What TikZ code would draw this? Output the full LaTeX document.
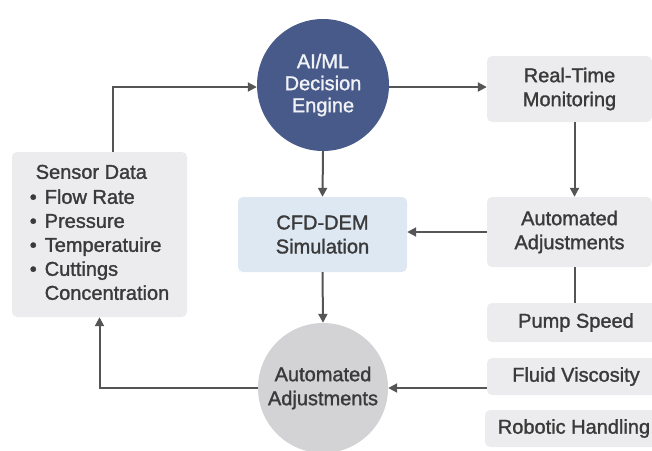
\documentclass[tikz,border=0pt]{standalone}
\usepackage{fontspec}
\setmainfont[FakeBold=1.4]{Liberation Sans}
\usetikzlibrary{arrows.meta}
\definecolor{boxgray}{HTML}{ECECEE}
\definecolor{boxblue}{HTML}{DEE8F2}
\definecolor{navy}{HTML}{485A89}
\definecolor{circgray}{HTML}{D3D3D5}
\definecolor{txt}{HTML}{3A3A3A}
\definecolor{conn}{HTML}{555555}
\tikzset{
  txtfont/.style={font=\fontsize{20}{24}\selectfont, text=txt, align=center},
  graybox/.style={txtfont, fill=boxgray, rounded corners=5pt, inner sep=0pt},
  bluebox/.style={txtfont, fill=boxblue, rounded corners=5pt, inner sep=0pt},
  arr/.style={draw=conn, line width=2pt, -{Triangle[length=9pt,width=9pt]}},
  ln/.style={draw=conn, line width=2pt},
}
\begin{document}
\begin{tikzpicture}[x=1pt,y=-1pt]
\useasboundingbox (0,0) rectangle (652,450);
% nodes
\node[graybox, minimum width=175pt, minimum height=165pt] (sensor) at (99.5,234.5)
  {\begin{tabular}{@{}l@{\hspace{8pt}}l@{}}
    \multicolumn{2}{@{}l@{}}{\hspace{6pt}Sensor Data}\\[1pt]
    \textbullet & Flow Rate\\
    \textbullet & Pressure\\
    \textbullet & Temperatuire\\
    \textbullet & Cuttings\\
     & Concentration
   \end{tabular}};
\node[circle, fill=navy, minimum size=132pt, inner sep=0pt, font=\fontsize{20}{22}\selectfont, text=white!92!navy, align=center] (aiml) at (323,85) {AI/ML\\Decision\\Engine};
\node[bluebox, minimum width=169pt, minimum height=75pt] (cfd) at (322.5,234.5) {CFD-DEM\\Simulation};
\node[circle, fill=circgray, minimum size=130pt, inner sep=0pt, txtfont] (botc) at (323,388) {Automated\\Adjustments};
\node[graybox, minimum width=165pt, minimum height=66pt] (rtm) at (569.5,89) {Real-Time\\Monitoring};
\node[graybox, minimum width=165pt, minimum height=70pt] (auto) at (569.5,232) {Automated\\Adjustments};
\node[graybox, minimum width=178pt, minimum height=39pt] (pump) at (576,322.5) {Pump Speed};
\node[graybox, minimum width=178pt, minimum height=37pt] (fluid) at (576,376.5) {Fluid Viscosity};
\node[graybox, minimum width=178pt, minimum height=37pt] (robot) at (574,428.5) {Robotic Handling};
% connectors
\draw[arr] ([xshift=13.5pt]sensor.north) |- ([yshift=-2pt]aiml.west);
\draw[arr] ([yshift=-2pt]aiml.east) -- ([yshift=-2pt]aiml.east -| rtm.west);
\draw[arr] (aiml.south) -- (cfd.north);
\draw[arr] ([xshift=5pt]rtm.south) -- ([xshift=5pt]auto.north);
\draw[arr] (auto.west) -- (auto.west -| cfd.east);
\draw[ln] ([xshift=5pt]auto.south) -- ([xshift=5pt]auto.south |- pump.north);
\draw[arr] (cfd.south) -- (botc.north);
\draw[arr] (botc -| fluid.west) -- (botc.east);
\draw[arr] (botc.west) -| (sensor.south);
\end{tikzpicture}
\end{document}
